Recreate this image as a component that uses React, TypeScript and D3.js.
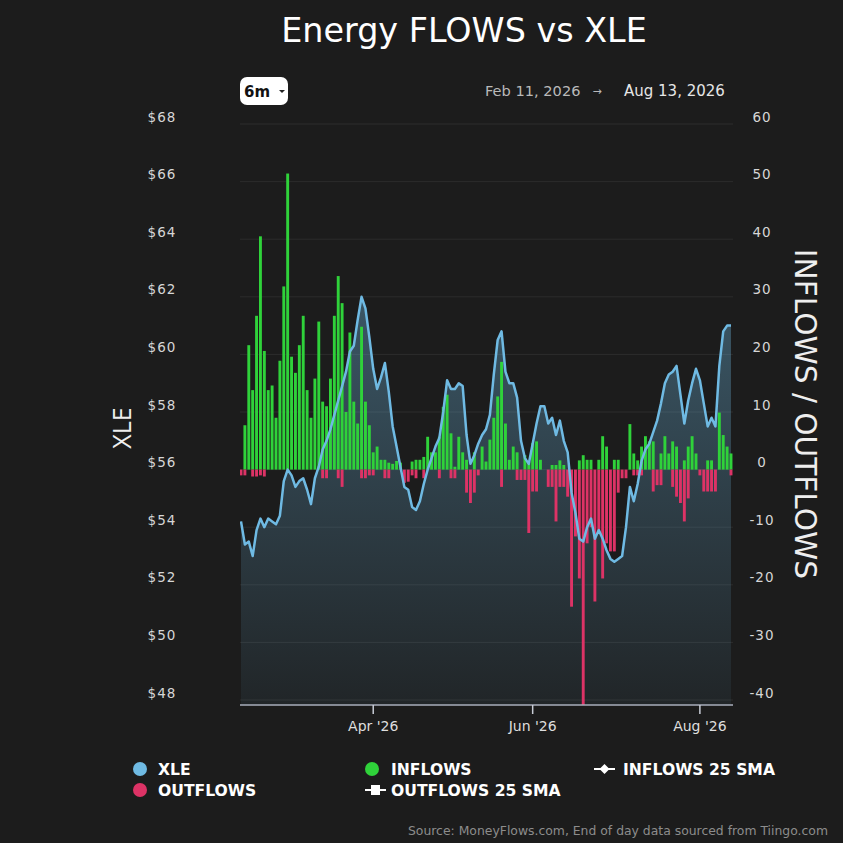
import React from 'react';
import * as d3 from 'd3';

// Trading days (Feb 11 – Aug 13, 2026)
const FEB = [11, 12, 13, 17, 18, 19, 20, 23, 24, 25, 26, 27];
const MAR = [2, 3, 4, 5, 6, 9, 10, 11, 12, 13, 16, 17, 18, 19, 20, 23, 24, 25, 26, 27, 30, 31];
const APR = [1, 2, 6, 7, 8, 9, 10, 13, 14, 15, 16, 17, 20, 21, 22, 23, 24, 27, 28, 29, 30];
const MAY = [1, 4, 5, 6, 7, 8, 11, 12, 13, 14, 15, 18, 19, 20, 21, 22, 26, 27, 28, 29];
const JUN = [1, 2, 3, 4, 5, 8, 9, 10, 11, 12, 15, 16, 17, 18, 22, 23, 24, 25, 26, 29, 30];
const JUL = [1, 2, 6, 7, 8, 9, 10, 13, 14, 15, 16, 17, 20, 21, 22, 23, 24, 27, 28, 29, 30, 31];
const AUG = [3, 4, 5, 6, 7, 10, 11, 12, 13];

const MONTH_DAYS: [string, number[]][] = [
  ['02', FEB], ['03', MAR], ['04', APR], ['05', MAY], ['06', JUN], ['07', JUL], ['08', AUG],
];
const DATES: string[] = MONTH_DAYS.flatMap(([m, days]) =>
  days.map((d) => `2026-${m}-${String(d).padStart(2, '0')}`)
);

const XLE = [
  54.2, 53.4, 53.5, 53.0, 53.9, 54.3, 54.0, 54.3, 54.2, 54.1,
  54.4, 55.6, 56.0, 55.8, 55.4, 55.6, 55.7, 55.3, 54.8, 55.7,
  56.1, 56.7, 57.0, 57.4, 57.9, 58.4, 58.9, 59.4, 60.1, 60.3,
  61.2, 62.0, 61.6, 60.6, 59.5, 58.8, 59.2, 59.7, 58.7, 57.5,
  56.8, 56.1, 55.4, 55.3, 54.7, 54.6, 54.9, 55.5, 56.0, 56.4,
  56.8, 57.1, 58.0, 59.1, 58.8, 58.8, 59.0, 58.9, 57.2, 56.2,
  56.5, 56.9, 57.2, 57.4, 57.9, 59.3, 60.5, 60.8, 59.4, 59.0,
  59.0, 58.5, 57.0, 56.4, 56.2, 56.9, 57.6, 58.2, 58.2, 57.6,
  57.8, 57.2, 57.7, 57.0, 56.6, 55.2, 54.5, 53.6, 53.5, 54.0,
  54.3, 53.6, 53.9, 53.6, 53.2, 52.9, 52.8, 52.9, 53.0, 54.0,
  55.4, 54.9, 55.5, 56.3, 56.7, 56.9, 57.3, 57.7, 58.3, 59.0,
  59.3, 59.4, 59.6, 58.6, 57.6, 58.4, 59.0, 59.5, 59.1, 58.3,
  57.5, 57.8, 57.5, 59.6, 60.8, 61.0, 61.0,
];

const INFLOWS = [
  0, 7.7, 21.6, 13.8, 26.7, 40.5, 20.6, 13.8, 14.6, 9,
  18.9, 31.8, 51.4, 19.6, 16.8, 21.6, 26.7, 13.8, 9, 15.8,
  25.7, 11.8, 11, 15.8, 26.7, 33.6, 28.9, 10, 23.8, 11.8,
  8, 24.8, 11.8, 7.7, 3, 4, 1.7, 1.7, 1.2, 1,
  1.5, 1.2, 0, 0, 1.4, 1.7, 1.7, 2.2, 5.7, 3,
  3, 5.7, 10.9, 13, 6.3, 0.5, 5.7, 3, 1.7, 0,
  3, 0, 4, 1.4, 5.2, 9, 12.7, 18.7, 8, 1.7,
  4, 3, 0, 2.5, 1.4, 4.6, 4.9, 1.7, 0, 0,
  0.8, 0.8, 1.6, 0.8, 0, 0, 0, 1.6, 2.5, 1.7,
  1.7, 0, 1.7, 5.8, 4, 0, 1.7, 1.7, 0, 0,
  7.9, 2.8, 1.6, 4, 5.8, 4.9, 4.9, 0, 2.8, 5.8,
  2.8, 4.9, 4, 0, 1.6, 4, 5.8, 2.8, 0, 0,
  1.6, 1.6, 0, 9.9, 6, 4, 2.8,
];

const OUTFLOWS = [
  -1, -1, 0, -1.2, -1.2, -1, -1.2, 0, 0, 0,
  0, 0, 0, 0, 0, 0, 0, 0, 0, 0,
  0, -1.5, -1.5, 0, 0, -1.5, -3, 0, 0, 0,
  0, -1.5, -1.5, -1, -1, 0, 0, -1.5, -1.5, 0,
  0, 0, -2.3, -2.1, -1, -1.5, 0, -1.5, 0, 0,
  0, -1.5, 0, 0, -1.5, -1.5, 0, 0, -4, -5.8,
  -4, -1, 0, 0, 0, 0, 0, -3, 0, 0,
  0, -1.8, -1.8, -1.8, -11, -3.8, -3.8, 0, 0, -3,
  -3, -9, -3, -3, -4.7, -23.8, -11.6, -18.9, -42, -12.8,
  -10, -22.9, -11, -18.9, -12.8, -14.2, -14.2, -4, -1.5, -1.5,
  0, -1, -1, -1, 0, 0, -3.8, -2.7, -2.7, 0,
  0, -3, -4.7, -5.8, -9, -5, 0, 0, -1, -3.8,
  -3.8, -3.8, -3.8, 0, 0, 0, -1,
];

const LEFT_TICKS = [48, 50, 52, 54, 56, 58, 60, 62, 64, 66, 68];
const RIGHT_TICKS = [-40, -30, -20, -10, 0, 10, 20, 30, 40, 50, 60];
const X_TICKS = ['2026-04-01', '2026-06-01', '2026-08-03'];
const X_TICK_LABELS = ["Apr '26", "Jun '26", "Aug '26"];

const FONT = "'DejaVu Sans', 'Open Sans', sans-serif";
const FONT2 = "'Open Sans', 'Noto Sans', sans-serif";
const BG = '#1c1c1c';
const BLUE = '#6fbae3';
const GREEN = '#2fd23a';
const RED = '#dd3366';

export default function App() {
  const plotL = 240, plotR = 733, plotT = 124, plotB = 705;
  const x = d3.scalePoint<string>().domain(DATES).range([241, 731]);
  const yL = d3.scaleLinear().domain([48, 68]).range([700, plotT]);
  const yR = d3.scaleLinear().domain([-40, 60]).range([700, plotT]);
  const rows = DATES.map((d, i) => ({ d, p: XLE[i], inf: INFLOWS[i], out: OUTFLOWS[i] }));

  const area = d3.area<typeof rows[0]>().x((r) => x(r.d)!).y0(plotB).y1((r) => yL(r.p))(rows)!;
  const line = d3.line<typeof rows[0]>().x((r) => x(r.d)!).y((r) => yL(r.p))(rows)!;
  const bw = 2.9;
  const y0 = yR(0);

  return (
    <svg width={843} height={843} style={{ position: 'absolute', left: 0, top: 0 }} fontFamily={FONT}>
      <defs>
        <linearGradient id="xleGrad" gradientUnits="userSpaceOnUse" x1="0" y1={plotT} x2="0" y2={plotB}>
          <stop offset="0" stopColor={BLUE} stopOpacity={0.5} />
          <stop offset="1" stopColor={BLUE} stopOpacity={0.06} />
        </linearGradient>
        <clipPath id="plotClip">
          <rect x={plotL} y={plotT - 10} width={plotR - plotL} height={plotB - plotT + 10} />
        </clipPath>
      </defs>
      <rect x={0} y={0} width={843} height={843} fill={BG} />

      <text x={464} y={42} textAnchor="middle" fill="#ffffff" fontSize={33.4}>Energy FLOWS vs XLE</text>

      {/* range selector */}
      <rect x={240} y={77} width={48} height={28} rx={7} fill="#ffffff" />
      <text x={244} y={97} fill="#111" fontSize={15} fontWeight={700}>6m</text>
      <path d="M279,90 l6,0 l-3,3 z" fill="#222" />
      <text x={485} y={96} fill="#b9b9b9" fontSize={14.6}>Feb 11, 2026</text>
      <text x={597} y={95} fill="#b9b9b9" fontSize={11} textAnchor="middle">→</text>
      <text x={624} y={96} fill="#e6e6e6" fontSize={15}>Aug 13, 2026</text>

      {/* grid */}
      {RIGHT_TICKS.map((t) => (
        <line key={t} x1={plotL} x2={plotR} y1={yR(t)} y2={yR(t)} stroke="#2c2c2c" strokeWidth={1} />
      ))}

      <g clipPath="url(#plotClip)">
        <path d={area} fill="url(#xleGrad)" />
        {rows.map((r) =>
          r.inf > 0 ? (
            <rect key={'i' + r.d} x={x(r.d)! - bw / 2} y={yR(r.inf)} width={bw} height={y0 - yR(r.inf)} fill={GREEN} />
          ) : null
        )}
        {rows.map((r) =>
          r.out < 0 ? (
            <rect key={'o' + r.d} x={x(r.d)! - bw / 2} y={y0} width={bw} height={yR(r.out) - y0} fill={RED} />
          ) : null
        )}
        <path d={line} fill="none" stroke={BLUE} strokeWidth={2.5} strokeLinejoin="round" />
      </g>

      {/* x axis */}
      <line x1={plotL} x2={plotR} y1={plotB} y2={plotB} stroke="#a9aebb" strokeWidth={1.5} />
      {X_TICKS.map((t, i) => (
        <g key={t} transform={`translate(${x(t)},0)`}>
          <line y1={plotB} y2={plotB + 9} stroke="#c8ccd6" strokeWidth={1.5} />
          <text y={plotB + 26} textAnchor="middle" fill="#dedede" fontSize={14}>{X_TICK_LABELS[i]}</text>
        </g>
      ))}

      {/* left axis */}
      {LEFT_TICKS.map((t) => (
        <text key={t} x={162} y={yL(t) - 2.5} textAnchor="middle" fill="#d6d6d6" fontSize={13.5} letterSpacing={1}>{'$' + t}</text>
      ))}
      <text transform="translate(131,428) rotate(-90)" textAnchor="middle" fill="#eeeeee" fontSize={25} fontFamily={FONT2}>XLE</text>

      {/* right axis */}
      {RIGHT_TICKS.map((t) => (
        <text key={t} x={762} y={yR(t) - 2.5} textAnchor="middle" fill="#d6d6d6" fontSize={13.5} letterSpacing={1}>{t}</text>
      ))}
      <text transform="translate(795,414) rotate(90)" textAnchor="middle" fill="#eeeeee" fontSize={29.6}>INFLOWS / OUTFLOWS</text>

      {/* legend */}
      <g fontSize={15.6} fontWeight={700} fill="#ffffff">
        <circle cx={140} cy={769} r={7} fill={BLUE} />
        <text x={158} y={775}>XLE</text>
        <circle cx={140} cy={790} r={7} fill={RED} />
        <text x={158} y={796}>OUTFLOWS</text>
        <circle cx={372} cy={769} r={7} fill={GREEN} />
        <text x={391} y={775}>INFLOWS</text>
        <line x1={365} x2={386} y1={790} y2={790} stroke="#ffffff" strokeWidth={2} />
        <rect x={371} y={785} width={9} height={10} fill="#ffffff" />
        <text x={391} y={796}>OUTFLOWS 25 SMA</text>
        <line x1={594} x2={615} y1={769} y2={769} stroke="#ffffff" strokeWidth={2} />
        <path d="M604.5,764 l5,5 l-5,5 l-5,-5 z" fill="#ffffff" />
        <text x={623} y={775}>INFLOWS 25 SMA</text>
      </g>

      <text x={828} y={835} textAnchor="end" fill="#8c8c8c" fontSize={12.4}>
        Source: MoneyFlows.com, End of day data sourced from Tiingo.com
      </text>
    </svg>
  );
}
